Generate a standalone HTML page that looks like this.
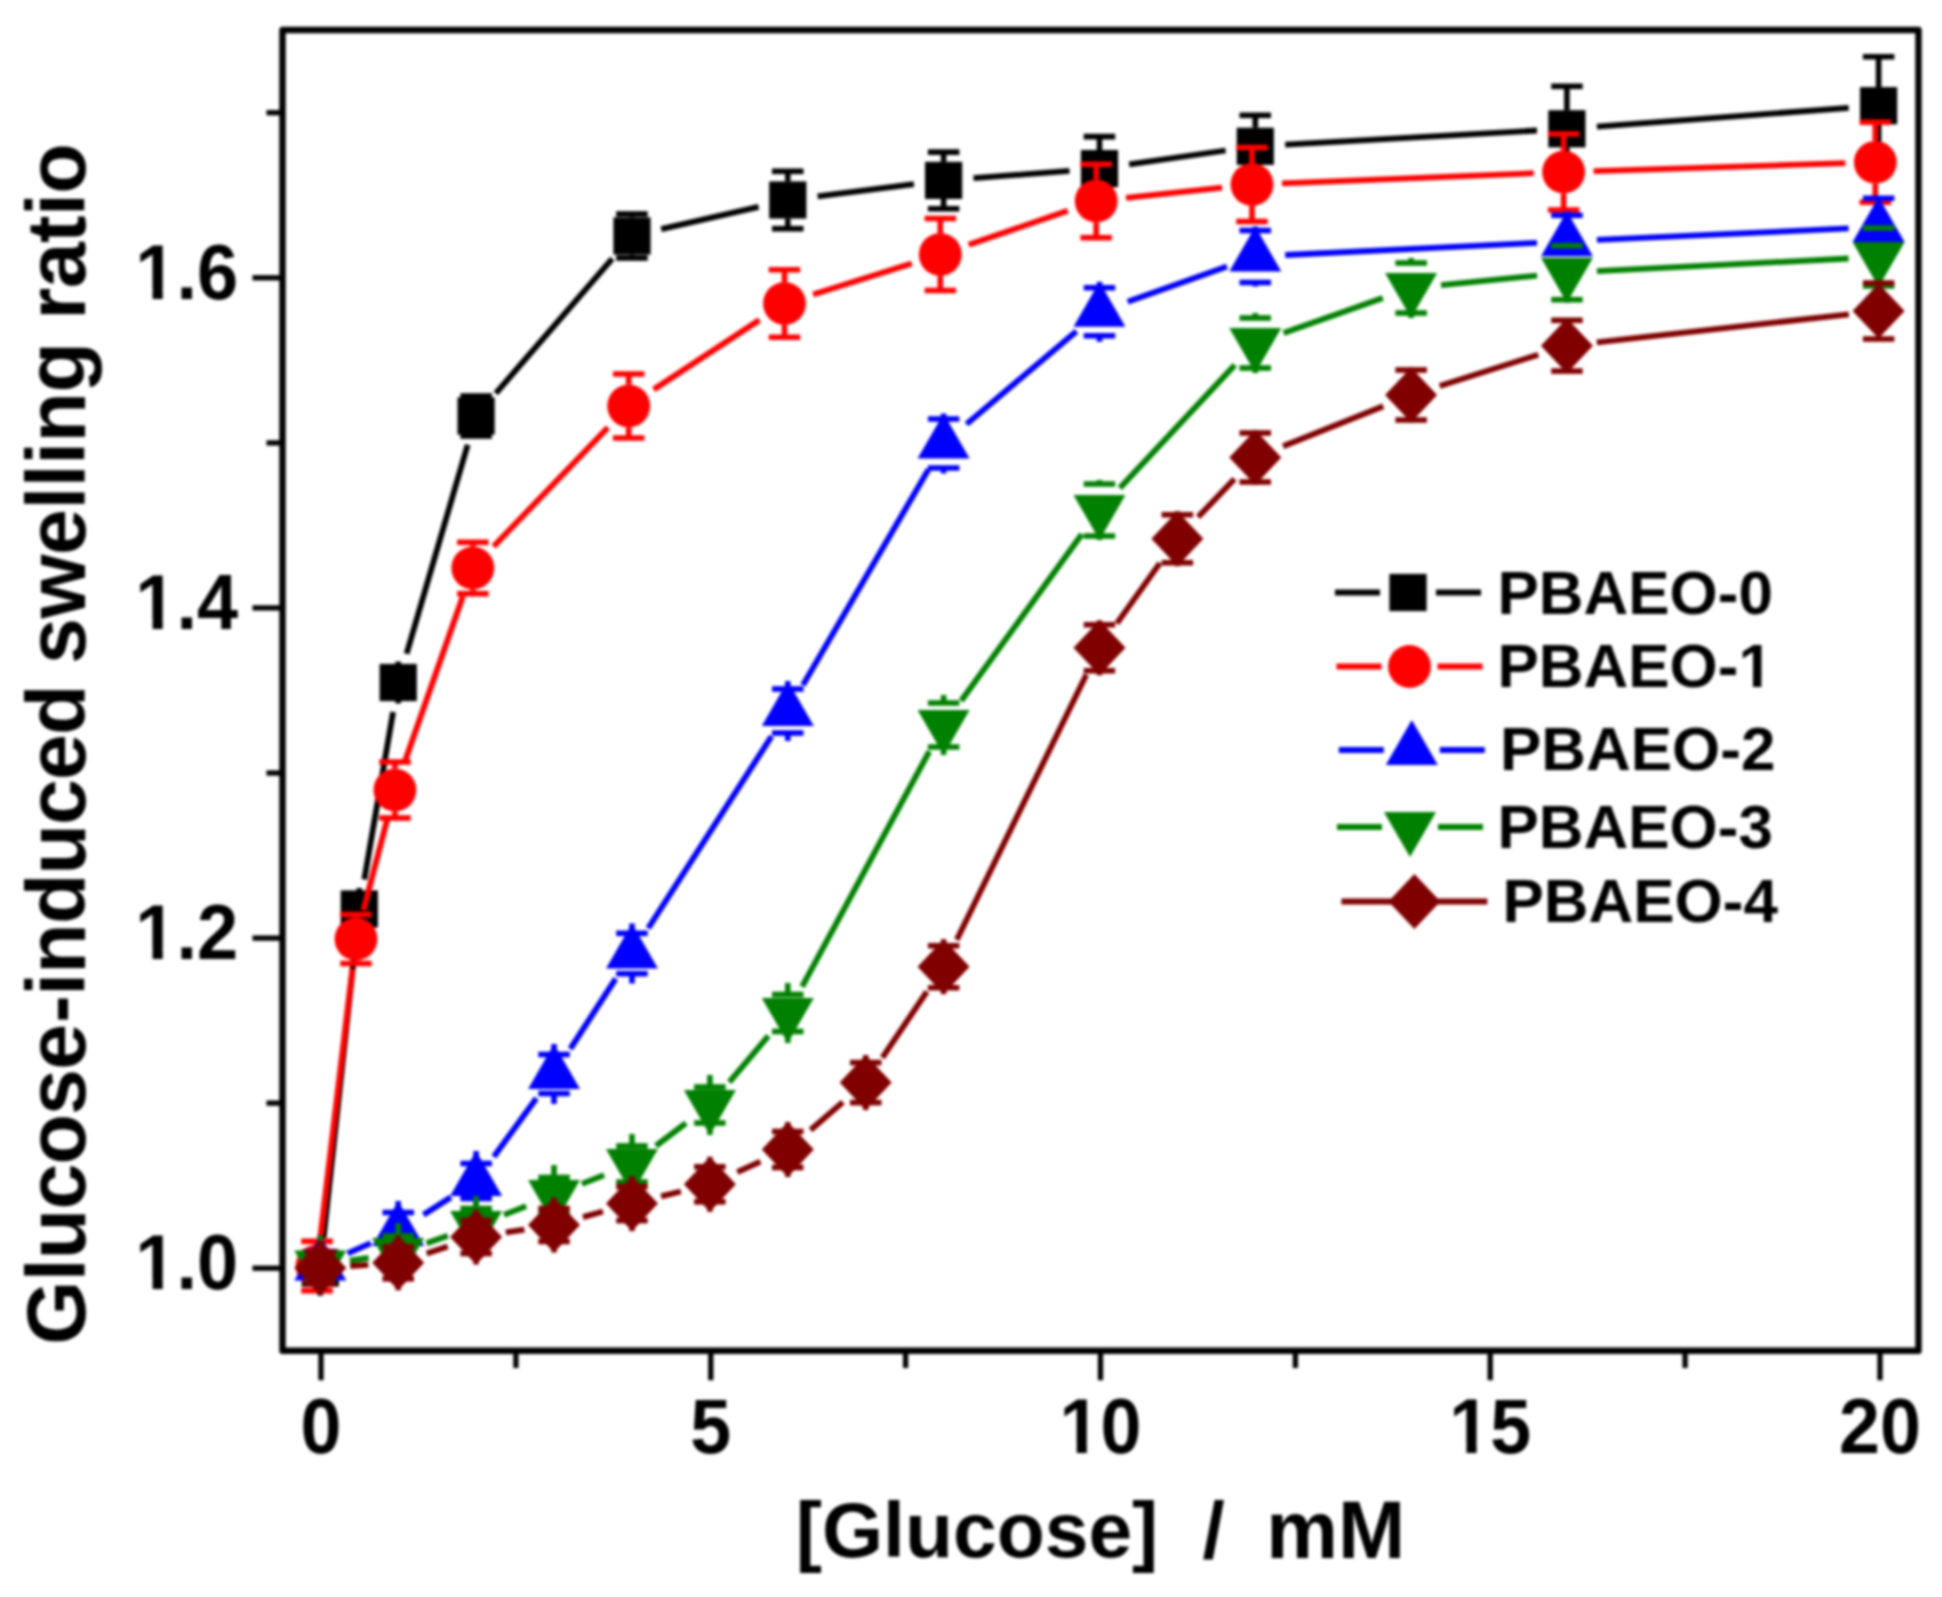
<!DOCTYPE html>
<html lang="en"><head><meta charset="utf-8"><title>Glucose-induced swelling ratio</title>
<style>
html,body{margin:0;padding:0;background:#fff;}
body{width:1942px;height:1597px;overflow:hidden;}
svg{display:block;filter:blur(1.4px);}
</style></head><body>
<svg width="1942" height="1597" viewBox="0 0 1942 1597">
<rect x="0" y="0" width="1942" height="1597" fill="#ffffff"/>
<defs><clipPath id="c1"><path d="M-10,-100 H80 V-12 H37.06 V3 H23.34 V-12 H-10 Z"/></clipPath></defs>
<g id="plot">
<g stroke="#000000" stroke-width="5.8" fill="none">
<line x1="323.5" y1="1238.2" x2="356.0" y2="938.8"/>
<line x1="364.3" y1="879.4" x2="393.1" y2="712.1"/>
<line x1="406.6" y1="653.7" x2="467.7" y2="444.8"/>
<line x1="495.8" y1="393.3" x2="612.3" y2="258.7"/>
<line x1="661.2" y1="229.2" x2="758.6" y2="206.8"/>
<line x1="817.6" y1="196.3" x2="913.9" y2="184.1"/>
<line x1="973.5" y1="178.1" x2="1069.5" y2="170.9"/>
<line x1="1129.1" y1="164.4" x2="1225.6" y2="150.5"/>
<line x1="1285.2" y1="144.6" x2="1537.0" y2="130.5"/>
<line x1="1596.9" y1="126.6" x2="1848.7" y2="107.9"/>
</g>
<g stroke="#000000" stroke-width="5.6" fill="none">
<line x1="320.3" y1="1247.0" x2="320.3" y2="1268.0"/>
<line x1="320.3" y1="1268.0" x2="320.3" y2="1289.0"/>
<line x1="359.3" y1="888.0" x2="359.3" y2="897.0"/>
<line x1="359.3" y1="921.0" x2="359.3" y2="930.0"/>
<line x1="343.5" y1="897.0" x2="375.0" y2="897.0"/>
<line x1="343.5" y1="921.0" x2="375.0" y2="921.0"/>
<line x1="398.2" y1="661.5" x2="398.2" y2="670.5"/>
<line x1="398.2" y1="694.5" x2="398.2" y2="703.5"/>
<line x1="382.5" y1="670.5" x2="414.0" y2="670.5"/>
<line x1="382.5" y1="694.5" x2="414.0" y2="694.5"/>
<line x1="476.1" y1="396.0" x2="476.1" y2="397.4"/>
<line x1="476.1" y1="434.6" x2="476.1" y2="436.0"/>
<line x1="460.4" y1="396.0" x2="491.9" y2="396.0"/>
<line x1="460.4" y1="436.0" x2="491.9" y2="436.0"/>
<line x1="632.0" y1="214.0" x2="632.0" y2="217.4"/>
<line x1="632.0" y1="254.6" x2="632.0" y2="258.0"/>
<line x1="616.2" y1="214.0" x2="647.7" y2="214.0"/>
<line x1="616.2" y1="258.0" x2="647.7" y2="258.0"/>
<line x1="787.8" y1="171.3" x2="787.8" y2="181.4"/>
<line x1="787.8" y1="218.6" x2="787.8" y2="228.7"/>
<line x1="772.0" y1="171.3" x2="803.5" y2="171.3"/>
<line x1="772.0" y1="228.7" x2="803.5" y2="228.7"/>
<line x1="943.6" y1="152.1" x2="943.6" y2="161.8"/>
<line x1="943.6" y1="199.0" x2="943.6" y2="208.7"/>
<line x1="927.9" y1="152.1" x2="959.4" y2="152.1"/>
<line x1="927.9" y1="208.7" x2="959.4" y2="208.7"/>
<line x1="1099.5" y1="136.6" x2="1099.5" y2="150.0"/>
<line x1="1099.5" y1="187.2" x2="1099.5" y2="200.6"/>
<line x1="1083.7" y1="136.6" x2="1115.2" y2="136.6"/>
<line x1="1083.7" y1="200.6" x2="1115.2" y2="200.6"/>
<line x1="1255.3" y1="115.3" x2="1255.3" y2="127.7"/>
<line x1="1255.3" y1="164.9" x2="1255.3" y2="177.3"/>
<line x1="1239.5" y1="115.3" x2="1271.0" y2="115.3"/>
<line x1="1239.5" y1="177.3" x2="1271.0" y2="177.3"/>
<line x1="1566.9" y1="86.3" x2="1566.9" y2="110.2"/>
<line x1="1566.9" y1="147.4" x2="1566.9" y2="171.3"/>
<line x1="1551.2" y1="86.3" x2="1582.7" y2="86.3"/>
<line x1="1551.2" y1="171.3" x2="1582.7" y2="171.3"/>
<line x1="1878.6" y1="56.7" x2="1878.6" y2="87.1"/>
<line x1="1878.6" y1="124.3" x2="1878.6" y2="154.7"/>
<line x1="1862.9" y1="56.7" x2="1894.4" y2="56.7"/>
<line x1="1862.9" y1="154.7" x2="1894.4" y2="154.7"/>
</g>
<rect x="301.7" y="1249.4" width="37.2" height="37.2" fill="#000000"/>
<rect x="340.7" y="890.4" width="37.2" height="37.2" fill="#000000"/>
<rect x="379.6" y="663.9" width="37.2" height="37.2" fill="#000000"/>
<rect x="457.5" y="397.4" width="37.2" height="37.2" fill="#000000"/>
<rect x="613.4" y="217.4" width="37.2" height="37.2" fill="#000000"/>
<rect x="769.2" y="181.4" width="37.2" height="37.2" fill="#000000"/>
<rect x="925.0" y="161.8" width="37.2" height="37.2" fill="#000000"/>
<rect x="1080.9" y="150.0" width="37.2" height="37.2" fill="#000000"/>
<rect x="1236.7" y="127.7" width="37.2" height="37.2" fill="#000000"/>
<rect x="1548.3" y="110.2" width="37.2" height="37.2" fill="#000000"/>
<rect x="1860.0" y="87.1" width="37.2" height="37.2" fill="#000000"/>
<g stroke="#ff0000" stroke-width="5.8" fill="none">
<line x1="320.5" y1="1236.2" x2="352.4" y2="968.8"/>
<line x1="363.5" y1="910.0" x2="387.3" y2="819.0"/>
<line x1="404.8" y1="761.7" x2="462.9" y2="596.3"/>
<line x1="493.6" y1="546.4" x2="607.9" y2="427.6"/>
<line x1="653.7" y1="389.5" x2="759.4" y2="320.0"/>
<line x1="813.1" y1="294.5" x2="911.7" y2="263.5"/>
<line x1="968.7" y1="244.8" x2="1067.8" y2="210.7"/>
<line x1="1126.0" y1="197.8" x2="1222.1" y2="187.7"/>
<line x1="1282.0" y1="183.3" x2="1533.7" y2="173.2"/>
<line x1="1593.6" y1="171.1" x2="1845.3" y2="163.2"/>
</g>
<g stroke="#ff0000" stroke-width="5.6" fill="none">
<line x1="317.0" y1="1241.3" x2="317.0" y2="1244.6"/>
<line x1="317.0" y1="1287.4" x2="317.0" y2="1290.7"/>
<line x1="301.2" y1="1241.3" x2="332.8" y2="1241.3"/>
<line x1="301.2" y1="1290.7" x2="332.8" y2="1290.7"/>
<line x1="356.0" y1="914.5" x2="356.0" y2="917.6"/>
<line x1="356.0" y1="960.4" x2="356.0" y2="963.5"/>
<line x1="340.2" y1="914.5" x2="371.7" y2="914.5"/>
<line x1="340.2" y1="963.5" x2="371.7" y2="963.5"/>
<line x1="394.9" y1="762.0" x2="394.9" y2="768.6"/>
<line x1="394.9" y1="811.4" x2="394.9" y2="818.0"/>
<line x1="379.2" y1="762.0" x2="410.7" y2="762.0"/>
<line x1="379.2" y1="818.0" x2="410.7" y2="818.0"/>
<line x1="472.8" y1="542.3" x2="472.8" y2="546.6"/>
<line x1="472.8" y1="589.4" x2="472.8" y2="593.7"/>
<line x1="457.1" y1="542.3" x2="488.6" y2="542.3"/>
<line x1="457.1" y1="593.7" x2="488.6" y2="593.7"/>
<line x1="628.7" y1="374.0" x2="628.7" y2="384.6"/>
<line x1="628.7" y1="427.4" x2="628.7" y2="438.0"/>
<line x1="612.9" y1="374.0" x2="644.4" y2="374.0"/>
<line x1="612.9" y1="438.0" x2="644.4" y2="438.0"/>
<line x1="784.5" y1="269.8" x2="784.5" y2="282.1"/>
<line x1="784.5" y1="324.9" x2="784.5" y2="337.2"/>
<line x1="768.7" y1="269.8" x2="800.2" y2="269.8"/>
<line x1="768.7" y1="337.2" x2="800.2" y2="337.2"/>
<line x1="940.3" y1="218.5" x2="940.3" y2="233.1"/>
<line x1="940.3" y1="275.9" x2="940.3" y2="290.5"/>
<line x1="924.6" y1="218.5" x2="956.1" y2="218.5"/>
<line x1="924.6" y1="290.5" x2="956.1" y2="290.5"/>
<line x1="1096.2" y1="164.3" x2="1096.2" y2="179.6"/>
<line x1="1096.2" y1="222.4" x2="1096.2" y2="237.7"/>
<line x1="1080.4" y1="164.3" x2="1111.9" y2="164.3"/>
<line x1="1080.4" y1="237.7" x2="1111.9" y2="237.7"/>
<line x1="1252.0" y1="147.5" x2="1252.0" y2="163.1"/>
<line x1="1252.0" y1="205.9" x2="1252.0" y2="221.5"/>
<line x1="1236.2" y1="147.5" x2="1267.7" y2="147.5"/>
<line x1="1236.2" y1="221.5" x2="1267.7" y2="221.5"/>
<line x1="1563.6" y1="134.0" x2="1563.6" y2="150.6"/>
<line x1="1563.6" y1="193.4" x2="1563.6" y2="210.0"/>
<line x1="1547.9" y1="134.0" x2="1579.4" y2="134.0"/>
<line x1="1547.9" y1="210.0" x2="1579.4" y2="210.0"/>
<line x1="1875.3" y1="122.3" x2="1875.3" y2="140.9"/>
<line x1="1875.3" y1="183.7" x2="1875.3" y2="202.3"/>
<line x1="1859.6" y1="122.3" x2="1891.1" y2="122.3"/>
<line x1="1859.6" y1="202.3" x2="1891.1" y2="202.3"/>
</g>
<circle cx="317.0" cy="1266.0" r="21.4" fill="#ff0000"/>
<circle cx="356.0" cy="939.0" r="21.4" fill="#ff0000"/>
<circle cx="394.9" cy="790.0" r="21.4" fill="#ff0000"/>
<circle cx="472.8" cy="568.0" r="21.4" fill="#ff0000"/>
<circle cx="628.7" cy="406.0" r="21.4" fill="#ff0000"/>
<circle cx="784.5" cy="303.5" r="21.4" fill="#ff0000"/>
<circle cx="940.3" cy="254.5" r="21.4" fill="#ff0000"/>
<circle cx="1096.2" cy="201.0" r="21.4" fill="#ff0000"/>
<circle cx="1252.0" cy="184.5" r="21.4" fill="#ff0000"/>
<circle cx="1563.6" cy="172.0" r="21.4" fill="#ff0000"/>
<circle cx="1875.3" cy="162.3" r="21.4" fill="#ff0000"/>
<g stroke="#0000ff" stroke-width="5.8" fill="none">
<line x1="347.7" y1="1253.4" x2="370.8" y2="1243.1"/>
<line x1="423.5" y1="1214.8" x2="450.9" y2="1197.2"/>
<line x1="493.8" y1="1156.7" x2="536.4" y2="1098.3"/>
<line x1="570.3" y1="1048.8" x2="615.7" y2="978.7"/>
<line x1="648.2" y1="928.3" x2="771.6" y2="736.2"/>
<line x1="802.9" y1="685.1" x2="928.5" y2="469.4"/>
<line x1="966.5" y1="424.1" x2="1076.5" y2="331.2"/>
<line x1="1127.7" y1="301.8" x2="1227.0" y2="266.5"/>
<line x1="1285.2" y1="255.0" x2="1537.0" y2="242.8"/>
<line x1="1596.9" y1="239.9" x2="1848.6" y2="228.4"/>
</g>
<g stroke="#0000ff" stroke-width="5.6" fill="none">
<line x1="320.3" y1="1235.5" x2="320.3" y2="1251.5"/>
<line x1="320.3" y1="1279.5" x2="320.3" y2="1295.5"/>
<line x1="304.6" y1="1251.5" x2="336.1" y2="1251.5"/>
<line x1="304.6" y1="1279.5" x2="336.1" y2="1279.5"/>
<line x1="398.2" y1="1201.0" x2="398.2" y2="1212.5"/>
<line x1="398.2" y1="1249.5" x2="398.2" y2="1261.0"/>
<line x1="382.5" y1="1212.5" x2="414.0" y2="1212.5"/>
<line x1="382.5" y1="1249.5" x2="414.0" y2="1249.5"/>
<line x1="476.1" y1="1151.0" x2="476.1" y2="1163.5"/>
<line x1="476.1" y1="1198.5" x2="476.1" y2="1211.0"/>
<line x1="460.4" y1="1163.5" x2="491.9" y2="1163.5"/>
<line x1="460.4" y1="1198.5" x2="491.9" y2="1198.5"/>
<line x1="554.0" y1="1044.0" x2="554.0" y2="1054.5"/>
<line x1="554.0" y1="1093.5" x2="554.0" y2="1104.0"/>
<line x1="538.3" y1="1054.5" x2="569.8" y2="1054.5"/>
<line x1="538.3" y1="1093.5" x2="569.8" y2="1093.5"/>
<line x1="632.0" y1="923.5" x2="632.0" y2="933.3"/>
<line x1="632.0" y1="973.7" x2="632.0" y2="983.5"/>
<line x1="616.2" y1="933.3" x2="647.7" y2="933.3"/>
<line x1="616.2" y1="973.7" x2="647.7" y2="973.7"/>
<line x1="787.8" y1="681.0" x2="787.8" y2="689.0"/>
<line x1="787.8" y1="733.0" x2="787.8" y2="741.0"/>
<line x1="772.0" y1="689.0" x2="803.5" y2="689.0"/>
<line x1="772.0" y1="733.0" x2="803.5" y2="733.0"/>
<line x1="943.6" y1="413.5" x2="943.6" y2="419.0"/>
<line x1="943.6" y1="468.0" x2="943.6" y2="473.5"/>
<line x1="927.9" y1="419.0" x2="959.4" y2="419.0"/>
<line x1="927.9" y1="468.0" x2="959.4" y2="468.0"/>
<line x1="1099.5" y1="281.8" x2="1099.5" y2="287.8"/>
<line x1="1099.5" y1="335.8" x2="1099.5" y2="341.8"/>
<line x1="1083.7" y1="287.8" x2="1115.2" y2="287.8"/>
<line x1="1083.7" y1="335.8" x2="1115.2" y2="335.8"/>
<line x1="1255.3" y1="226.5" x2="1255.3" y2="230.5"/>
<line x1="1255.3" y1="282.5" x2="1255.3" y2="286.5"/>
<line x1="1239.5" y1="230.5" x2="1271.0" y2="230.5"/>
<line x1="1239.5" y1="282.5" x2="1271.0" y2="282.5"/>
<line x1="1566.9" y1="211.3" x2="1566.9" y2="215.3"/>
<line x1="1566.9" y1="267.3" x2="1566.9" y2="271.3"/>
<line x1="1551.2" y1="215.3" x2="1582.7" y2="215.3"/>
<line x1="1551.2" y1="267.3" x2="1582.7" y2="267.3"/>
<line x1="1878.6" y1="197.0" x2="1878.6" y2="198.3"/>
<line x1="1878.6" y1="255.7" x2="1878.6" y2="257.0"/>
<line x1="1862.9" y1="198.3" x2="1894.4" y2="198.3"/>
<line x1="1862.9" y1="255.7" x2="1894.4" y2="255.7"/>
</g>
<polygon points="320.3,1235.5 346.3,1280.5 294.3,1280.5" fill="#0000ff"/>
<polygon points="398.2,1201.0 424.2,1246.0 372.2,1246.0" fill="#0000ff"/>
<polygon points="476.1,1151.0 502.1,1196.0 450.1,1196.0" fill="#0000ff"/>
<polygon points="554.0,1044.0 580.0,1089.0 528.1,1089.0" fill="#0000ff"/>
<polygon points="632.0,923.5 657.9,968.5 606.0,968.5" fill="#0000ff"/>
<polygon points="787.8,681.0 813.8,726.0 761.8,726.0" fill="#0000ff"/>
<polygon points="943.6,413.5 969.6,458.5 917.6,458.5" fill="#0000ff"/>
<polygon points="1099.5,281.8 1125.4,326.8 1073.5,326.8" fill="#0000ff"/>
<polygon points="1255.3,226.5 1281.3,271.5 1229.3,271.5" fill="#0000ff"/>
<polygon points="1566.9,211.3 1592.9,256.3 1541.0,256.3" fill="#0000ff"/>
<polygon points="1878.6,197.0 1904.6,242.0 1852.6,242.0" fill="#0000ff"/>
<g stroke="#008000" stroke-width="5.8" fill="none">
<line x1="349.9" y1="1260.7" x2="368.6" y2="1257.8"/>
<line x1="426.6" y1="1243.2" x2="447.8" y2="1235.8"/>
<line x1="504.0" y1="1214.9" x2="526.2" y2="1206.1"/>
<line x1="581.9" y1="1183.9" x2="604.1" y2="1175.1"/>
<line x1="655.9" y1="1145.9" x2="686.0" y2="1123.1"/>
<line x1="729.3" y1="1082.1" x2="768.4" y2="1035.9"/>
<line x1="802.1" y1="986.6" x2="929.3" y2="751.4"/>
<line x1="961.2" y1="700.7" x2="1081.8" y2="534.3"/>
<line x1="1119.9" y1="488.1" x2="1234.8" y2="364.9"/>
<line x1="1283.6" y1="333.0" x2="1382.8" y2="298.0"/>
<line x1="1441.0" y1="285.1" x2="1537.1" y2="275.6"/>
<line x1="1596.9" y1="271.2" x2="1848.6" y2="258.5"/>
</g>
<g stroke="#008000" stroke-width="5.6" fill="none">
<line x1="320.3" y1="1235.5" x2="320.3" y2="1252.5"/>
<line x1="320.3" y1="1278.5" x2="320.3" y2="1295.5"/>
<line x1="304.6" y1="1252.5" x2="336.1" y2="1252.5"/>
<line x1="304.6" y1="1278.5" x2="336.1" y2="1278.5"/>
<line x1="398.2" y1="1223.0" x2="398.2" y2="1236.0"/>
<line x1="398.2" y1="1270.0" x2="398.2" y2="1283.0"/>
<line x1="382.5" y1="1236.0" x2="414.0" y2="1236.0"/>
<line x1="382.5" y1="1270.0" x2="414.0" y2="1270.0"/>
<line x1="476.1" y1="1196.0" x2="476.1" y2="1208.5"/>
<line x1="476.1" y1="1243.5" x2="476.1" y2="1256.0"/>
<line x1="460.4" y1="1208.5" x2="491.9" y2="1208.5"/>
<line x1="460.4" y1="1243.5" x2="491.9" y2="1243.5"/>
<line x1="554.0" y1="1165.0" x2="554.0" y2="1177.5"/>
<line x1="554.0" y1="1212.5" x2="554.0" y2="1225.0"/>
<line x1="538.3" y1="1177.5" x2="569.8" y2="1177.5"/>
<line x1="538.3" y1="1212.5" x2="569.8" y2="1212.5"/>
<line x1="632.0" y1="1134.0" x2="632.0" y2="1146.0"/>
<line x1="632.0" y1="1182.0" x2="632.0" y2="1194.0"/>
<line x1="616.2" y1="1146.0" x2="647.7" y2="1146.0"/>
<line x1="616.2" y1="1182.0" x2="647.7" y2="1182.0"/>
<line x1="709.9" y1="1075.0" x2="709.9" y2="1087.0"/>
<line x1="709.9" y1="1123.0" x2="709.9" y2="1135.0"/>
<line x1="694.1" y1="1087.0" x2="725.6" y2="1087.0"/>
<line x1="694.1" y1="1123.0" x2="725.6" y2="1123.0"/>
<line x1="787.8" y1="983.0" x2="787.8" y2="994.5"/>
<line x1="787.8" y1="1031.5" x2="787.8" y2="1043.0"/>
<line x1="772.0" y1="994.5" x2="803.5" y2="994.5"/>
<line x1="772.0" y1="1031.5" x2="803.5" y2="1031.5"/>
<line x1="943.6" y1="695.0" x2="943.6" y2="703.0"/>
<line x1="943.6" y1="747.0" x2="943.6" y2="755.0"/>
<line x1="927.9" y1="703.0" x2="959.4" y2="703.0"/>
<line x1="927.9" y1="747.0" x2="959.4" y2="747.0"/>
<line x1="1099.5" y1="480.0" x2="1099.5" y2="484.0"/>
<line x1="1099.5" y1="536.0" x2="1099.5" y2="540.0"/>
<line x1="1083.7" y1="484.0" x2="1115.2" y2="484.0"/>
<line x1="1083.7" y1="536.0" x2="1115.2" y2="536.0"/>
<line x1="1255.3" y1="313.0" x2="1255.3" y2="318.0"/>
<line x1="1255.3" y1="368.0" x2="1255.3" y2="373.0"/>
<line x1="1239.5" y1="318.0" x2="1271.0" y2="318.0"/>
<line x1="1239.5" y1="368.0" x2="1271.0" y2="368.0"/>
<line x1="1411.1" y1="258.0" x2="1411.1" y2="263.0"/>
<line x1="1411.1" y1="313.0" x2="1411.1" y2="318.0"/>
<line x1="1395.4" y1="263.0" x2="1426.9" y2="263.0"/>
<line x1="1395.4" y1="313.0" x2="1426.9" y2="313.0"/>
<line x1="1566.9" y1="242.7" x2="1566.9" y2="245.7"/>
<line x1="1566.9" y1="299.7" x2="1566.9" y2="302.7"/>
<line x1="1551.2" y1="245.7" x2="1582.7" y2="245.7"/>
<line x1="1551.2" y1="299.7" x2="1582.7" y2="299.7"/>
<line x1="1878.6" y1="227.0" x2="1878.6" y2="228.0"/>
<line x1="1878.6" y1="286.0" x2="1878.6" y2="287.0"/>
<line x1="1862.9" y1="228.0" x2="1894.4" y2="228.0"/>
<line x1="1862.9" y1="286.0" x2="1894.4" y2="286.0"/>
</g>
<polygon points="320.3,1295.5 346.3,1250.5 294.3,1250.5" fill="#008000"/>
<polygon points="398.2,1283.0 424.2,1238.0 372.2,1238.0" fill="#008000"/>
<polygon points="476.1,1256.0 502.1,1211.0 450.1,1211.0" fill="#008000"/>
<polygon points="554.0,1225.0 580.0,1180.0 528.1,1180.0" fill="#008000"/>
<polygon points="632.0,1194.0 657.9,1149.0 606.0,1149.0" fill="#008000"/>
<polygon points="709.9,1135.0 735.9,1090.0 683.9,1090.0" fill="#008000"/>
<polygon points="787.8,1043.0 813.8,998.0 761.8,998.0" fill="#008000"/>
<polygon points="943.6,755.0 969.6,710.0 917.6,710.0" fill="#008000"/>
<polygon points="1099.5,540.0 1125.4,495.0 1073.5,495.0" fill="#008000"/>
<polygon points="1255.3,373.0 1281.3,328.0 1229.3,328.0" fill="#008000"/>
<polygon points="1411.1,318.0 1437.1,273.0 1385.1,273.0" fill="#008000"/>
<polygon points="1566.9,302.7 1592.9,257.7 1541.0,257.7" fill="#008000"/>
<polygon points="1878.6,287.0 1904.6,242.0 1852.6,242.0" fill="#008000"/>
<g stroke="#800000" stroke-width="5.8" fill="none">
<line x1="350.2" y1="1266.0" x2="368.3" y2="1264.8"/>
<line x1="426.7" y1="1253.4" x2="447.7" y2="1246.4"/>
<line x1="505.8" y1="1232.4" x2="524.4" y2="1229.6"/>
<line x1="583.0" y1="1217.1" x2="603.0" y2="1211.5"/>
<line x1="661.1" y1="1196.4" x2="680.8" y2="1191.5"/>
<line x1="737.3" y1="1172.1" x2="760.4" y2="1161.7"/>
<line x1="810.6" y1="1130.0" x2="842.9" y2="1102.1"/>
<line x1="882.4" y1="1057.7" x2="926.9" y2="991.6"/>
<line x1="956.8" y1="939.7" x2="1086.3" y2="674.8"/>
<line x1="1116.9" y1="623.4" x2="1159.9" y2="563.1"/>
<line x1="1198.1" y1="517.1" x2="1234.5" y2="479.1"/>
<line x1="1283.1" y1="446.3" x2="1383.3" y2="406.2"/>
<line x1="1439.7" y1="386.0" x2="1538.3" y2="354.7"/>
<line x1="1596.8" y1="342.4" x2="1848.8" y2="314.3"/>
</g>
<g stroke="#800000" stroke-width="5.6" fill="none">
<line x1="320.3" y1="1240.5" x2="320.3" y2="1252.0"/>
<line x1="320.3" y1="1284.0" x2="320.3" y2="1295.5"/>
<line x1="304.6" y1="1252.0" x2="336.1" y2="1252.0"/>
<line x1="304.6" y1="1284.0" x2="336.1" y2="1284.0"/>
<line x1="398.2" y1="1235.3" x2="398.2" y2="1246.8"/>
<line x1="398.2" y1="1278.8" x2="398.2" y2="1290.3"/>
<line x1="382.5" y1="1246.8" x2="414.0" y2="1246.8"/>
<line x1="382.5" y1="1278.8" x2="414.0" y2="1278.8"/>
<line x1="476.1" y1="1209.5" x2="476.1" y2="1220.5"/>
<line x1="476.1" y1="1253.5" x2="476.1" y2="1264.5"/>
<line x1="460.4" y1="1220.5" x2="491.9" y2="1220.5"/>
<line x1="460.4" y1="1253.5" x2="491.9" y2="1253.5"/>
<line x1="554.0" y1="1197.5" x2="554.0" y2="1208.5"/>
<line x1="554.0" y1="1241.5" x2="554.0" y2="1252.5"/>
<line x1="538.3" y1="1208.5" x2="569.8" y2="1208.5"/>
<line x1="538.3" y1="1241.5" x2="569.8" y2="1241.5"/>
<line x1="632.0" y1="1176.1" x2="632.0" y2="1186.6"/>
<line x1="632.0" y1="1220.6" x2="632.0" y2="1231.1"/>
<line x1="616.2" y1="1186.6" x2="647.7" y2="1186.6"/>
<line x1="616.2" y1="1220.6" x2="647.7" y2="1220.6"/>
<line x1="709.9" y1="1156.8" x2="709.9" y2="1166.8"/>
<line x1="709.9" y1="1201.8" x2="709.9" y2="1211.8"/>
<line x1="694.1" y1="1166.8" x2="725.6" y2="1166.8"/>
<line x1="694.1" y1="1201.8" x2="725.6" y2="1201.8"/>
<line x1="787.8" y1="1122.0" x2="787.8" y2="1131.5"/>
<line x1="787.8" y1="1167.5" x2="787.8" y2="1177.0"/>
<line x1="772.0" y1="1131.5" x2="803.5" y2="1131.5"/>
<line x1="772.0" y1="1167.5" x2="803.5" y2="1167.5"/>
<line x1="865.7" y1="1055.1" x2="865.7" y2="1062.6"/>
<line x1="865.7" y1="1102.6" x2="865.7" y2="1110.1"/>
<line x1="850.0" y1="1062.6" x2="881.5" y2="1062.6"/>
<line x1="850.0" y1="1102.6" x2="881.5" y2="1102.6"/>
<line x1="943.6" y1="939.2" x2="943.6" y2="945.7"/>
<line x1="943.6" y1="987.7" x2="943.6" y2="994.2"/>
<line x1="927.9" y1="945.7" x2="959.4" y2="945.7"/>
<line x1="927.9" y1="987.7" x2="959.4" y2="987.7"/>
<line x1="1099.5" y1="620.3" x2="1099.5" y2="624.8"/>
<line x1="1099.5" y1="670.8" x2="1099.5" y2="675.3"/>
<line x1="1083.7" y1="624.8" x2="1115.2" y2="624.8"/>
<line x1="1083.7" y1="670.8" x2="1115.2" y2="670.8"/>
<line x1="1177.4" y1="511.2" x2="1177.4" y2="514.7"/>
<line x1="1177.4" y1="562.7" x2="1177.4" y2="566.2"/>
<line x1="1161.6" y1="514.7" x2="1193.1" y2="514.7"/>
<line x1="1161.6" y1="562.7" x2="1193.1" y2="562.7"/>
<line x1="1255.3" y1="430.0" x2="1255.3" y2="433.0"/>
<line x1="1255.3" y1="482.0" x2="1255.3" y2="485.0"/>
<line x1="1239.5" y1="433.0" x2="1271.0" y2="433.0"/>
<line x1="1239.5" y1="482.0" x2="1271.0" y2="482.0"/>
<line x1="1411.1" y1="367.5" x2="1411.1" y2="370.0"/>
<line x1="1411.1" y1="420.0" x2="1411.1" y2="422.5"/>
<line x1="1395.4" y1="370.0" x2="1426.9" y2="370.0"/>
<line x1="1395.4" y1="420.0" x2="1426.9" y2="420.0"/>
<line x1="1566.9" y1="318.2" x2="1566.9" y2="320.3"/>
<line x1="1566.9" y1="371.1" x2="1566.9" y2="373.2"/>
<line x1="1551.2" y1="320.3" x2="1582.7" y2="320.3"/>
<line x1="1551.2" y1="371.1" x2="1582.7" y2="371.1"/>
<line x1="1878.6" y1="283.0" x2="1878.6" y2="283.5"/>
<line x1="1878.6" y1="338.5" x2="1878.6" y2="339.0"/>
<line x1="1862.9" y1="283.0" x2="1894.4" y2="283.0"/>
<line x1="1862.9" y1="339.0" x2="1894.4" y2="339.0"/>
</g>
<polygon points="320.3,1240.5 346.3,1268.0 320.3,1295.5 294.3,1268.0" fill="#800000"/>
<polygon points="398.2,1235.3 424.2,1262.8 398.2,1290.3 372.2,1262.8" fill="#800000"/>
<polygon points="476.1,1209.5 502.1,1237.0 476.1,1264.5 450.1,1237.0" fill="#800000"/>
<polygon points="554.0,1197.5 580.0,1225.0 554.0,1252.5 528.0,1225.0" fill="#800000"/>
<polygon points="632.0,1176.1 658.0,1203.6 632.0,1231.1 606.0,1203.6" fill="#800000"/>
<polygon points="709.9,1156.8 735.9,1184.3 709.9,1211.8 683.9,1184.3" fill="#800000"/>
<polygon points="787.8,1122.0 813.8,1149.5 787.8,1177.0 761.8,1149.5" fill="#800000"/>
<polygon points="865.7,1055.1 891.7,1082.6 865.7,1110.1 839.7,1082.6" fill="#800000"/>
<polygon points="943.6,939.2 969.6,966.7 943.6,994.2 917.6,966.7" fill="#800000"/>
<polygon points="1099.5,620.3 1125.5,647.8 1099.5,675.3 1073.5,647.8" fill="#800000"/>
<polygon points="1177.4,511.2 1203.4,538.7 1177.4,566.2 1151.4,538.7" fill="#800000"/>
<polygon points="1255.3,430.0 1281.3,457.5 1255.3,485.0 1229.3,457.5" fill="#800000"/>
<polygon points="1411.1,367.5 1437.1,395.0 1411.1,422.5 1385.1,395.0" fill="#800000"/>
<polygon points="1566.9,318.2 1592.9,345.7 1566.9,373.2 1540.9,345.7" fill="#800000"/>
<polygon points="1878.6,283.5 1904.6,311.0 1878.6,338.5 1852.6,311.0" fill="#800000"/>
</g>
<g stroke="#000" fill="none" stroke-linecap="butt">
<rect x="282.5" y="30.0" width="1636.0" height="1320.7" stroke-width="6.4" stroke-linejoin="round"/>
<line x1="321.0" y1="1350.7" x2="321.0" y2="1380.2" stroke-width="5.3"/>
<line x1="710.8" y1="1350.7" x2="710.8" y2="1380.2" stroke-width="5.3"/>
<line x1="1100.5" y1="1350.7" x2="1100.5" y2="1380.2" stroke-width="5.3"/>
<line x1="1490.2" y1="1350.7" x2="1490.2" y2="1380.2" stroke-width="5.3"/>
<line x1="1880.0" y1="1350.7" x2="1880.0" y2="1380.2" stroke-width="5.3"/>
<line x1="515.9" y1="1350.7" x2="515.9" y2="1368.0" stroke-width="5.3"/>
<line x1="905.6" y1="1350.7" x2="905.6" y2="1368.0" stroke-width="5.3"/>
<line x1="1295.4" y1="1350.7" x2="1295.4" y2="1368.0" stroke-width="5.3"/>
<line x1="1685.1" y1="1350.7" x2="1685.1" y2="1368.0" stroke-width="5.3"/>
<line x1="282.5" y1="1268.2" x2="252.5" y2="1268.2" stroke-width="5.3"/>
<line x1="282.5" y1="938.1" x2="252.5" y2="938.1" stroke-width="5.3"/>
<line x1="282.5" y1="607.9" x2="252.5" y2="607.9" stroke-width="5.3"/>
<line x1="282.5" y1="277.8" x2="252.5" y2="277.8" stroke-width="5.3"/>
<line x1="282.5" y1="1103.1" x2="266.5" y2="1103.1" stroke-width="5.3"/>
<line x1="282.5" y1="773.0" x2="266.5" y2="773.0" stroke-width="5.3"/>
<line x1="282.5" y1="442.9" x2="266.5" y2="442.9" stroke-width="5.3"/>
<line x1="282.5" y1="112.7" x2="266.5" y2="112.7" stroke-width="5.3"/>
</g>
<g font-family="'Liberation Sans', sans-serif" font-weight="bold" fill="#000">
<text transform="translate(300.52,1453.2) scale(0.95,1)" font-size="77.5">0</text>
<text transform="translate(690.27,1453.2) scale(0.95,1)" font-size="77.5">5</text>
<g transform="translate(1059.55,1453.2) scale(0.7362,0.7750)"><text font-size="100" clip-path="url(#c1)">1</text></g><text transform="translate(1100.50,1453.2) scale(0.95,1)" font-size="77.5">0</text>
<g transform="translate(1449.30,1453.2) scale(0.7362,0.7750)"><text font-size="100" clip-path="url(#c1)">1</text></g><text transform="translate(1490.25,1453.2) scale(0.95,1)" font-size="77.5">5</text>
<text transform="translate(1839.05,1453.2) scale(0.95,1)" font-size="77.5">20</text>
<g transform="translate(135.31,1289.0) scale(0.7401,0.7750)"><text font-size="100" clip-path="url(#c1)">1</text></g><text transform="translate(176.47,1289.0) scale(0.955,1)" font-size="77.5">.0</text>
<g transform="translate(135.31,958.9) scale(0.7401,0.7750)"><text font-size="100" clip-path="url(#c1)">1</text></g><text transform="translate(176.47,958.9) scale(0.955,1)" font-size="77.5">.2</text>
<g transform="translate(135.31,628.7) scale(0.7401,0.7750)"><text font-size="100" clip-path="url(#c1)">1</text></g><text transform="translate(176.47,628.7) scale(0.955,1)" font-size="77.5">.4</text>
<g transform="translate(135.31,298.6) scale(0.7401,0.7750)"><text font-size="100" clip-path="url(#c1)">1</text></g><text transform="translate(176.47,298.6) scale(0.955,1)" font-size="77.5">.6</text>
<text transform="translate(795.8,1557.0) scale(1.0,1)" font-size="78.6" text-anchor="start">[Glucose]</text>
<text transform="translate(1213.5,1557.5) scale(1.0,1)" font-size="80" text-anchor="middle">/</text>
<text transform="translate(1335.8,1557.6) scale(0.99,1)" font-size="81.5" text-anchor="middle">mM</text>
<text transform="translate(84.9,1344.7) rotate(-90)" font-size="82.5" letter-spacing="-0.8">Glucose</text><text transform="translate(84.9,1022.7) rotate(-90)" font-size="82.5" letter-spacing="0">-</text><text transform="translate(84.9,995.7) rotate(-90)" font-size="82.5" letter-spacing="-0.86">induced</text>
<text transform="translate(84.9,663.9) rotate(-90)" font-size="82.5" letter-spacing="-0.53">swelling</text>
<text transform="translate(84.9,319.7) rotate(-90)" font-size="82.5" letter-spacing="-0.6">ratio</text>
</g>
<g stroke="#000000" stroke-width="5.8">
<line x1="1335.0" y1="592.5" x2="1380.0" y2="592.5"/><line x1="1436.0" y1="592.5" x2="1481.0" y2="592.5"/>
</g>
<rect x="1389.4" y="573.9" width="37.2" height="37.2" fill="#000000"/>
<g font-family="'Liberation Sans', sans-serif" font-weight="bold" fill="#000"><text transform="translate(1497.50,613.9) scale(1.024,1)" font-size="60.5">PBAEO-0</text></g>
<g stroke="#ff0000" stroke-width="5.8">
<line x1="1336.5" y1="666.5" x2="1381.5" y2="666.5"/><line x1="1437.5" y1="666.5" x2="1482.5" y2="666.5"/>
</g>
<circle cx="1409.5" cy="666.5" r="21.4" fill="#ff0000"/>
<g font-family="'Liberation Sans', sans-serif" font-weight="bold" fill="#000"><text transform="translate(1497.50,687.3) scale(1.024,1)" font-size="60.5">PBAEO-</text><g transform="translate(1738.44,687.3) scale(0.6195,0.6050)"><text font-size="100" clip-path="url(#c1)">1</text></g></g>
<g stroke="#0000ff" stroke-width="5.8">
<line x1="1338.8" y1="750" x2="1383.8" y2="750"/><line x1="1439.8" y1="750" x2="1484.8" y2="750"/>
</g>
<polygon points="1411.8,720.0 1437.8,765.0 1385.8,765.0" fill="#0000ff"/>
<g font-family="'Liberation Sans', sans-serif" font-weight="bold" fill="#000"><text transform="translate(1500.00,770.4) scale(1.024,1)" font-size="60.5">PBAEO-2</text></g>
<g stroke="#008000" stroke-width="5.8">
<line x1="1337.0" y1="827" x2="1382.0" y2="827"/><line x1="1438.0" y1="827" x2="1483.0" y2="827"/>
</g>
<polygon points="1410.0,857.0 1436.0,812.0 1384.0,812.0" fill="#008000"/>
<g font-family="'Liberation Sans', sans-serif" font-weight="bold" fill="#000"><text transform="translate(1497.50,847.8) scale(1.024,1)" font-size="60.5">PBAEO-3</text></g>
<g stroke="#800000" stroke-width="5.8">
<line x1="1341.4" y1="901.5" x2="1487.4" y2="901.5"/>
</g>
<polygon points="1414.4,874.0 1440.4,901.5 1414.4,929.0 1388.4,901.5" fill="#800000"/>
<g font-family="'Liberation Sans', sans-serif" font-weight="bold" fill="#000"><text transform="translate(1502.50,922.2) scale(1.024,1)" font-size="60.5">PBAEO-4</text></g>
</svg>
</body></html>
